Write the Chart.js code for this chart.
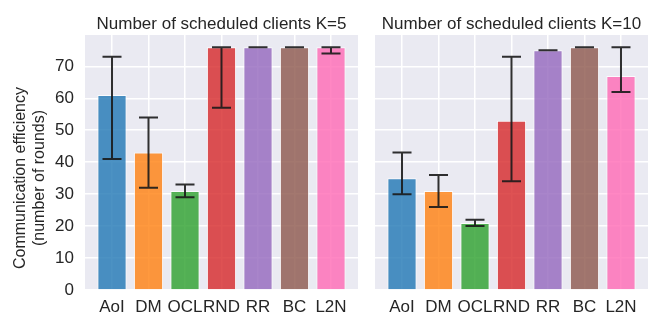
<!DOCTYPE html>
<html>
<head>
<meta charset="utf-8">
<script src="https://cdn.jsdelivr.net/npm/chart.js@4"></script>
<style>
  html, body { margin: 0; padding: 0; background: #fff; }
  #wrap { width: 664px; height: 332px; display: flex; }
  #left { width: 362px; height: 332px; position: relative; }
  #right { width: 302px; height: 332px; position: relative; }
</style>
</head>
<body>
<div id="wrap">
  <div id="left"><canvas id="chartK5"></canvas></div>
  <div id="right"><canvas id="chartK10"></canvas></div>
</div>
<script>
// ── DATA ───────────────────────────────────────────────────────────────────
const methods  = ['AoI', 'DM', 'OCL', 'RND', 'RR', 'BC', 'L2N'];
const yTicks   = [0, 10, 20, 30, 40, 50, 60, 70];

const k5Mean   = [61, 43, 31, 76, 76, 76, 76];
const k5Low    = [41, 32, 29, 57, 76, 76, 74];
const k5High   = [73, 54, 33, 76, 76, 76, 76];

const k10Mean  = [35, 31, 21, 53, 75, 76, 67];
const k10Low   = [30, 26, 20, 34, 75, 76, 62];
const k10High  = [43, 36, 22, 73, 75, 76, 76];

const yLabel = ['Communication efficiency', '(number of rounds)'];

// tab10-ish colours, alpha 0.8 like the original
const barColors = [
  'rgba(31,119,180,0.8)', 'rgba(255,127,14,0.8)', 'rgba(44,160,44,0.8)',
  'rgba(214,39,40,0.8)',  'rgba(148,103,189,0.8)', 'rgba(140,86,75,0.8)',
  'rgba(255,105,180,0.8)'
];

const FONT = "'Liberation Sans', Arial, sans-serif";
Chart.defaults.font.family = FONT;
Chart.defaults.color = '#262626';
Chart.defaults.animation = false;

// ── PLUGINS ────────────────────────────────────────────────────────────────
const bgPlugin = {
  id: 'bg',
  beforeDraw(chart) {
    const { ctx, chartArea: a } = chart;
    ctx.save();
    ctx.fillStyle = '#eaeaf2';
    ctx.fillRect(a.left, a.top, a.right - a.left, a.bottom - a.top);
    ctx.restore();
  }
};

// title centred over the plot area (matplotlib style), plus optional y label
const textPlugin = {
  id: 'txt',
  afterDraw(chart, args, opts) {
    const { ctx, chartArea: a } = chart;
    ctx.save();
    ctx.fillStyle = '#262626';
    ctx.textAlign = 'center';
    ctx.textBaseline = 'alphabetic';
    ctx.font = '17px ' + FONT;
    ctx.fillText(opts.title, (a.left + a.right) / 2, 29);
    if (opts.ylabel) {
      ctx.font = '16px ' + FONT;
      ctx.textBaseline = 'middle';
      ctx.translate(0, 178);
      ctx.rotate(-Math.PI / 2);
      ctx.fillText(opts.ylabel[0], 0, 21);
      ctx.fillText(opts.ylabel[1], 0, 40);
    }
    ctx.restore();
  }
};

const errPlugin = {
  id: 'err',
  afterDatasetsDraw(chart, args, opts) {
    const { ctx } = chart;
    const xs = chart.scales.x, ys = chart.scales.y;
    ctx.save();
    ctx.strokeStyle = 'rgba(26,26,26,0.9)';
    ctx.lineWidth = 2;
    opts.low.forEach((lo, i) => {
      const x = xs.getPixelForValue(i);
      const y1 = ys.getPixelForValue(lo);
      const y2 = ys.getPixelForValue(opts.high[i]);
      ctx.beginPath();
      ctx.moveTo(x, y1); ctx.lineTo(x, y2);
      ctx.moveTo(x - 9.5, y1); ctx.lineTo(x + 9.5, y1);
      ctx.moveTo(x - 9.5, y2); ctx.lineTo(x + 9.5, y2);
      ctx.stroke();
    });
    ctx.restore();
  }
};

function makeChart(id, title, mean, low, high, showY) {
  return new Chart(document.getElementById(id), {
    type: 'bar',
    data: {
      datasets: [{
        data: mean.map((v, i) => ({ x: i, y: v })),
        backgroundColor: barColors,
        borderColor: 'rgba(255,255,255,0.8)',
        borderWidth: 1,
        categoryPercentage: 1,
        barPercentage: 0.8,
      }]
    },
    options: {
      responsive: true, maintainAspectRatio: false,
      layout: { padding: { left: 0, right: showY ? 4 : 16, top: 35, bottom: 0 } },
      plugins: {
        legend: { display: false },
        tooltip: { enabled: false },
        title: { display: false },
        txt: { title, ylabel: showY ? yLabel : null },
        err: { low, high }
      },
      scales: {
        x: {
          type: 'linear', min: -0.74, max: 6.74, offset: false,
          afterBuildTicks: s => { s.ticks = methods.map((_, i) => ({ value: i })); },
          afterFit: s => { s.height = 42; },
          ticks: { callback: v => methods[v], autoSkip: false, maxRotation: 0,
            font: { size: 17 }, color: '#262626', padding: 7 },
          grid: { color: '#ffffff', lineWidth: 1.5, drawTicks: false, offset: false },
          border: { display: false }
        },
        y: {
          min: 0, max: 79.8,
          afterBuildTicks: s => { s.ticks = yTicks.map(v => ({ value: v })); },
          afterFit: s => { s.width = showY ? 85 : 13; },
          ticks: { display: showY, font: { size: 17 }, color: '#262626', padding: 11 },
          grid: { color: '#ffffff', lineWidth: 1.5, drawTicks: false },
          border: { display: false }
        }
      }
    },
    plugins: [bgPlugin, errPlugin, textPlugin]
  });
}

makeChart('chartK5', 'Number of scheduled clients K=5', k5Mean, k5Low, k5High, true);
makeChart('chartK10', 'Number of scheduled clients K=10', k10Mean, k10Low, k10High, false);
</script>
</body>
</html>
